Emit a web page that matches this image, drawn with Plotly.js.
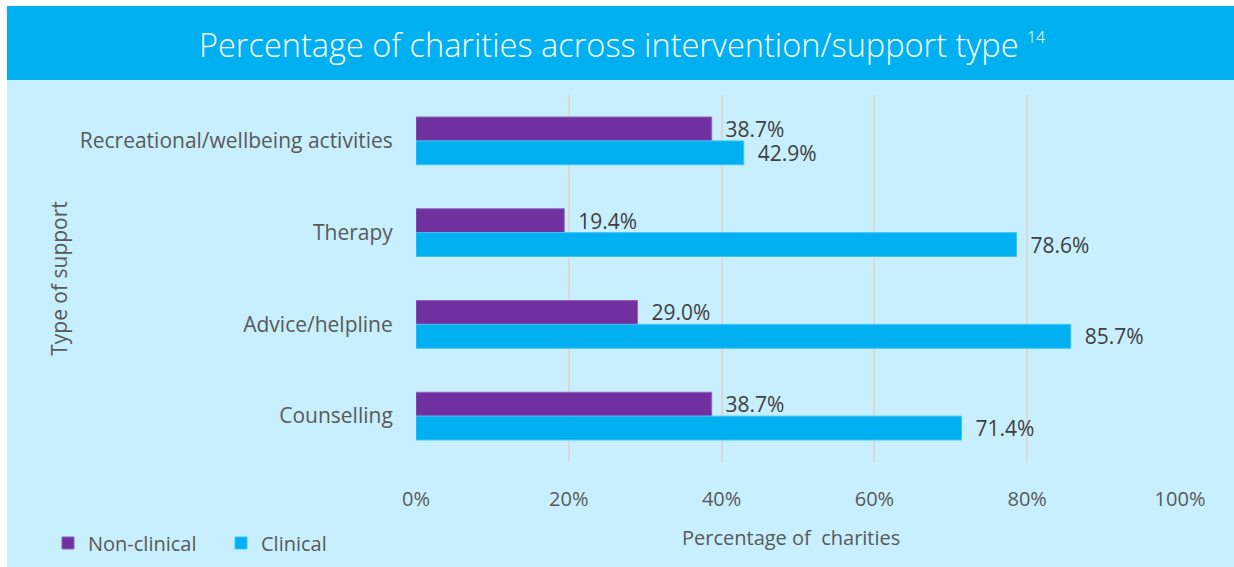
<!DOCTYPE html>
<html>
<head>
<meta charset="utf-8">
<script src="https://cdn.plot.ly/plotly-3.0.1.min.js"></script>
<style>html,body{margin:0;padding:0;background:#fff;overflow:hidden;}#chart{width:1234px;height:567px;}</style>
</head>
<body>
<div id="chart"></div>
<script>
var categories = ["Recreational/wellbeing activities", "Therapy", "Advice/helpline", "Counselling"];
var nonClinical = [38.7, 19.4, 29.0, 38.7];
var clinical = [42.9, 78.6, 85.7, 71.4];
var seriesNames = ["Non-clinical", "Clinical"];
var xTickVals = [0, 20, 40, 60, 80, 100];
var xTickText = ["0%", "20%", "40%", "60%", "80%", "100%"];
var xTitle = "Percentage of  charities";
var yTitle = "Type of support";
var chartTitle = "Percentage of charities across intervention/support type";
var titleNote = "14";

var W = 1234, H = 567;
var L = 416, R = 54, T = 95, B = 105;
var pw = W - L - R, ph = H - T - B;
function px(x){ return (x - L) / pw; }
function py(y){ return (H - B - y) / ph; }

var font = "Open Sans, Noto Sans, sans-serif";
var txt = "#595959";

var traces = [
  {type: "bar", orientation: "h", name: seriesNames[0], y: categories, x: nonClinical,
   marker: {color: "#7030A0", line: {color: "#8E63B8", width: 1}},
   text: nonClinical.map(function(v){ return "  " + v.toFixed(1) + "%"; }),
   textposition: "outside", cliponaxis: false, constraintext: "none",
   textfont: {family: font, size: 21, color: "#404040"}, hoverinfo: "x+name"},
  {type: "bar", orientation: "h", name: seriesNames[1], y: categories, x: clinical,
   marker: {color: "#00B0F0", line: {color: "#3FC3F3", width: 1}},
   text: clinical.map(function(v){ return "  " + v.toFixed(1) + "%"; }),
   textposition: "outside", cliponaxis: false, constraintext: "none",
   textfont: {family: font, size: 21, color: "#404040"}, hoverinfo: "x+name"}
];

var layout = {
  width: W, height: H,
  margin: {l: L, r: R, t: T, b: B, pad: 0},
  paper_bgcolor: "#ffffff",
  plot_bgcolor: "rgba(0,0,0,0)",
  barmode: "group", bargap: 0.48, bargroupgap: 0,
  showlegend: true,
  legend: {orientation: "h", xref: "container", yref: "container",
           x: 48 / W, y: 1 - 543 / H, xanchor: "left", yanchor: "middle",
           font: {family: font, size: 20, color: txt}, bgcolor: "rgba(0,0,0,0)",
           entrywidth: 128, entrywidthmode: "pixels", traceorder: "normal"},
  xaxis: {range: [0, 100], tickvals: xTickVals, ticktext: xTickText,
          showgrid: true, gridcolor: "#D9D9D9", gridwidth: 2, zeroline: false,
          showline: false, ticks: "", ticklen: 0, ticklabelstandoff: 23,
          tickfont: {family: font, size: 20, color: txt},
          fixedrange: true},
  yaxis: {type: "category", autorange: "reversed", showgrid: false, zeroline: false,
          showline: false, ticks: "outside", ticklen: 18, tickcolor: "rgba(0,0,0,0)",
          tickfont: {family: font, size: 21, color: txt},
          title: {text: yTitle, font: {family: font, size: 21, color: txt}, standoff: 6},
          fixedrange: true},
  shapes: [
    {type: "rect", xref: "paper", yref: "paper", x0: px(7), x1: px(1240), y0: py(600), y1: py(80),
     fillcolor: "#C8EFFD", line: {width: 0}, layer: "below"},
    {type: "rect", xref: "paper", yref: "paper", x0: px(7), x1: px(1240), y0: py(80), y1: py(6),
     fillcolor: "#00B0F0", line: {width: 0}, layer: "below"}
  ],
  annotations: [
    {xref: "paper", yref: "paper", x: px(622), y: py(44), xanchor: "center", yanchor: "middle",
     showarrow: false, text: chartTitle + " <sup><span style='font-size:16px'>" + titleNote + "</span></sup>",
     font: {family: "Open Sans, sans-serif", size: 32.5, weight: 300, color: "#ffffff"}},
    {xref: "paper", yref: "paper", x: px(791), y: py(537), xanchor: "center", yanchor: "middle",
     showarrow: false, text: xTitle,
     font: {family: font, size: 20, color: txt}}
  ]
};

Plotly.newPlot("chart", traces, layout, {displayModeBar: false, staticPlot: true});
</script>
</body>
</html>
